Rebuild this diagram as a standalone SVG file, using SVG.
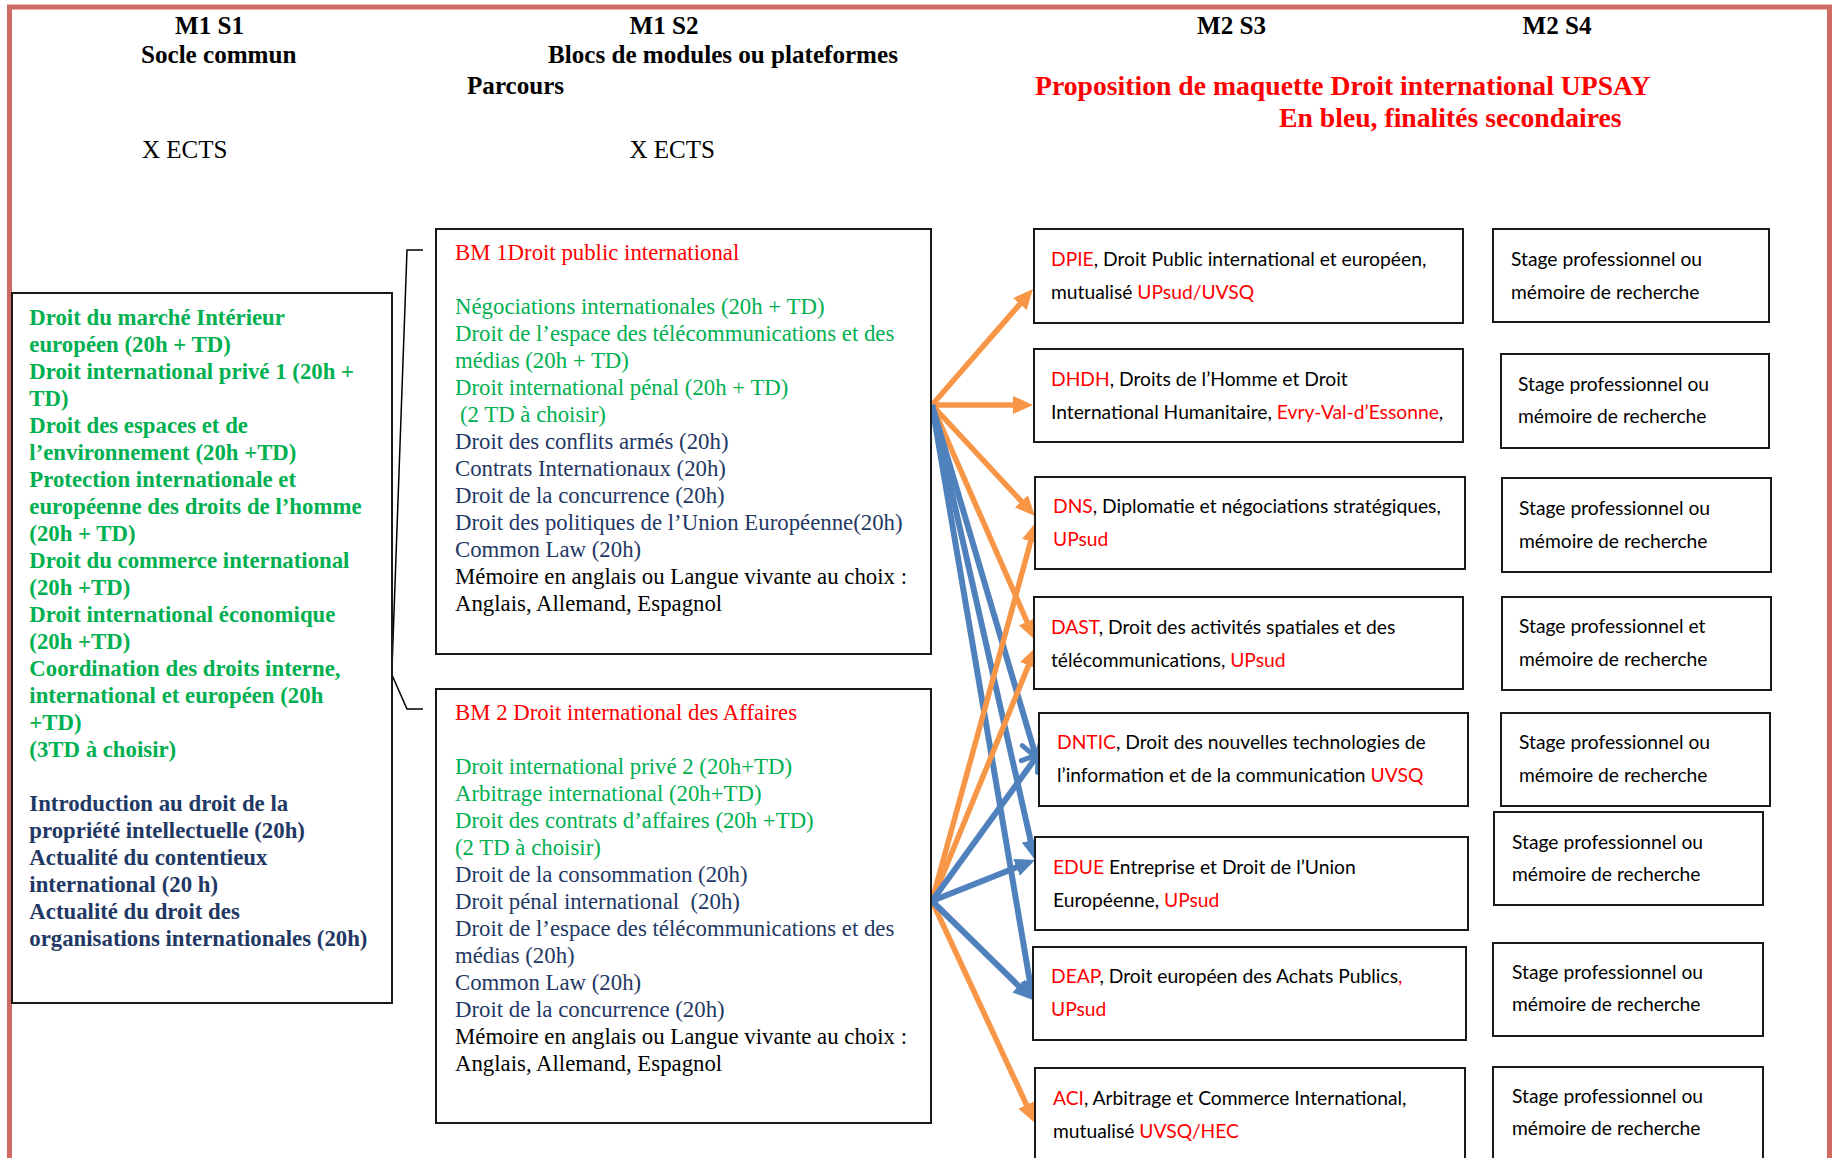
<svg xmlns="http://www.w3.org/2000/svg" width="1835" height="1158" viewBox="0 0 1835 1158">
<style>
.hd{font-family:"Liberation Serif","Times New Roman",serif;font-size:25.1px;font-weight:bold;fill:#000}
.hr{font-family:"Liberation Serif","Times New Roman",serif;font-size:25px;fill:#000}
.ttl{font-family:"Liberation Serif","Times New Roman",serif;font-size:27.7px;font-weight:bold;fill:#FF0000}
.tb{font-family:"Liberation Serif","Times New Roman",serif;font-size:22.8px;font-weight:bold}
.tr{font-family:"Liberation Serif","Times New Roman",serif;font-size:22.8px}
.sn{font-family:Lato,"Open Sans",sans-serif;font-size:19.25px;fill:#000}
.g{fill:#00B050}.n{fill:#1F3864}.r{fill:#FF0000}.k{fill:#000}
.box{fill:#fff;stroke:#1a1a1a;stroke-width:2}
.or{fill:none;stroke:#F79646;stroke-width:5.5}
.bl{fill:none;stroke:#4F81BD;stroke-width:6}
</style>
<defs>
<marker id="triO" markerUnits="userSpaceOnUse" markerWidth="20" markerHeight="18" viewBox="0 0 20 18" refX="8" refY="9" orient="auto"><path d="M0,0 L20,9 L0,18 z" fill="#F79646"/></marker>
<marker id="triB" markerUnits="userSpaceOnUse" markerWidth="20" markerHeight="18" viewBox="0 0 20 18" refX="8" refY="9" orient="auto"><path d="M0,0 L20,9 L0,18 z" fill="#4F81BD"/></marker>
<marker id="openB" markerUnits="userSpaceOnUse" markerWidth="34" markerHeight="34" viewBox="-8 -7 34 34" refX="16" refY="10" orient="auto"><path d="M1,0 L16,10 L1,20" fill="none" stroke="#4F81BD" stroke-width="5" stroke-linecap="round"/></marker>
</defs>
<rect x="9.5" y="7" width="1820" height="1175" fill="none" stroke="#CF6B63" stroke-width="5"/>

<g id="headers">
<text class="hd" x="175" y="34">M1 S1</text>
<text class="hd" x="141" y="63">Socle commun</text>
<text class="hd" x="629.5" y="34">M1 S2</text>
<text class="hd" x="548" y="63">Blocs de modules ou plateformes</text>
<text class="hd" x="467" y="94">Parcours</text>
<text class="hr" x="142" y="158">X ECTS</text>
<text class="hr" x="629.5" y="158">X ECTS</text>
<text class="hd" x="1197" y="34">M2 S3</text>
<text class="hd" x="1522.5" y="34">M2 S4</text>
<text class="ttl" x="1035" y="95">Proposition de maquette Droit international UPSAY</text>
<text class="ttl" x="1279" y="127">En bleu, finalités secondaires</text>
</g>

<g id="connectors">
<path d="M423,250 L407,250 L392,668 M392,675 L407,709 L423,709" fill="none" stroke="#000" stroke-width="1.5"/>
<line class="or" x1="932" y1="405" x2="1025.1" y2="298.1" marker-end="url(#triO)"/>
<line class="or" x1="932" y1="405" x2="1021" y2="405" marker-end="url(#triO)"/>
<line class="or" x1="932" y1="405" x2="1026.8" y2="507.2" marker-end="url(#triO)"/>
<line class="or" x1="932" y1="405" x2="1030.2" y2="629" marker-end="url(#triO)"/>
<line class="bl" x1="932" y1="405" x2="1036.1" y2="757.1" marker-end="url(#openB)"/>
<line class="bl" x1="932" y1="405" x2="1032.4" y2="848.3" marker-end="url(#triB)"/>
<line class="bl" x1="932" y1="405" x2="1031" y2="988.2" marker-end="url(#triB)"/>
<line class="or" x1="932" y1="901" x2="1032.8" y2="533.6" marker-end="url(#triO)"/>
<line class="or" x1="932" y1="901" x2="1031.5" y2="658.1" marker-end="url(#triO)"/>
<line class="or" x1="932" y1="901" x2="1029.9" y2="1112.1" marker-end="url(#triO)"/>
<line class="bl" x1="932" y1="901" x2="1038.2" y2="754.4" marker-end="url(#openB)"/>
<line class="bl" x1="932" y1="901" x2="1023.9" y2="864.4" marker-end="url(#triB)"/>
<line class="bl" x1="932" y1="901" x2="1024.4" y2="991.6" marker-end="url(#triB)"/>
</g>

<g id="socle">
<rect class="box" x="12" y="293" width="380" height="710"/>
<text class="tb g">
<tspan x="29.3" y="325">Droit du marché Intérieur</tspan>
<tspan x="29.3" y="352">européen (20h + TD)</tspan>
<tspan x="29.3" y="379">Droit international privé 1 (20h +</tspan>
<tspan x="29.3" y="406">TD)</tspan>
<tspan x="29.3" y="433">Droit des espaces et de</tspan>
<tspan x="29.3" y="460">l’environnement (20h +TD)</tspan>
<tspan x="29.3" y="487">Protection internationale et</tspan>
<tspan x="29.3" y="514">européenne des droits de l’homme</tspan>
<tspan x="29.3" y="541">(20h + TD)</tspan>
<tspan x="29.3" y="568">Droit du commerce international</tspan>
<tspan x="29.3" y="595">(20h +TD)</tspan>
<tspan x="29.3" y="622">Droit international économique</tspan>
<tspan x="29.3" y="649">(20h +TD)</tspan>
<tspan x="29.3" y="676">Coordination des droits interne,</tspan>
<tspan x="29.3" y="703">international et européen (20h</tspan>
<tspan x="29.3" y="730">+TD)</tspan>
<tspan x="29.3" y="757">(3TD à choisir)</tspan>
</text>
<text class="tb n">
<tspan x="29.3" y="811">Introduction au droit de la</tspan>
<tspan x="29.3" y="838">propriété intellectuelle (20h)</tspan>
<tspan x="29.3" y="865">Actualité du contentieux</tspan>
<tspan x="29.3" y="892">international (20 h)</tspan>
<tspan x="29.3" y="919">Actualité du droit des</tspan>
<tspan x="29.3" y="946">organisations internationales (20h)</tspan>
</text>
</g>

<g id="bm1">
<rect class="box" x="436" y="229" width="495" height="425"/>
<text class="tr r" x="455" y="260">BM 1Droit public international</text>
<text class="tr g">
<tspan x="455" y="314">Négociations internationales (20h + TD)</tspan>
<tspan x="455" y="341">Droit de l’espace des télécommunications et des</tspan>
<tspan x="455" y="368">médias (20h + TD)</tspan>
<tspan x="455" y="395">Droit international pénal (20h + TD)</tspan>
<tspan x="460" y="422">(2 TD à choisir)</tspan>
</text>
<text class="tr n">
<tspan x="455" y="449">Droit des conflits armés (20h)</tspan>
<tspan x="455" y="476">Contrats Internationaux (20h)</tspan>
<tspan x="455" y="503">Droit de la concurrence (20h)</tspan>
<tspan x="455" y="530">Droit des politiques de l’Union Européenne(20h)</tspan>
<tspan x="455" y="557">Common Law (20h)</tspan>
</text>
<text class="tr k">
<tspan x="455" y="584">Mémoire en anglais ou Langue vivante au choix :</tspan>
<tspan x="455" y="611">Anglais, Allemand, Espagnol</tspan>
</text>
</g>

<g id="bm2">
<rect class="box" x="436" y="689" width="495" height="434"/>
<text class="tr r" x="455" y="720">BM 2 Droit international des Affaires</text>
<text class="tr g">
<tspan x="455" y="774">Droit international privé 2 (20h+TD)</tspan>
<tspan x="455" y="801">Arbitrage international (20h+TD)</tspan>
<tspan x="455" y="828">Droit des contrats d’affaires (20h +TD)</tspan>
<tspan x="455" y="855">(2 TD à choisir)</tspan>
</text>
<text class="tr n">
<tspan x="455" y="882">Droit de la consommation (20h)</tspan>
<tspan x="455" y="909">Droit pénal international&#160; (20h)</tspan>
<tspan x="455" y="936">Droit de l’espace des télécommunications et des</tspan>
<tspan x="455" y="963">médias (20h)</tspan>
<tspan x="455" y="990">Common Law (20h)</tspan>
<tspan x="455" y="1017">Droit de la concurrence (20h)</tspan>
</text>
<text class="tr k">
<tspan x="455" y="1044">Mémoire en anglais ou Langue vivante au choix :</tspan>
<tspan x="455" y="1071">Anglais, Allemand, Espagnol</tspan>
</text>
</g>

<g id="dpie">
<rect class="box" x="1034" y="229" width="429" height="94"/>
<text class="sn" x="1051" y="266"><tspan class="r">DPIE</tspan>, Droit Public international et européen,</text>
<text class="sn" x="1051" y="299">mutualisé <tspan class="r">UPsud/UVSQ</tspan></text>
</g>
<g id="dhdh">
<rect class="box" x="1034" y="349" width="429" height="93"/>
<text class="sn" x="1051" y="386"><tspan class="r">DHDH</tspan>, Droits de l’Homme et Droit</text>
<text class="sn" x="1051" y="419">International Humanitaire, <tspan class="r">Evry-Val-d’Essonne</tspan>,</text>
</g>
<g id="dns">
<rect class="box" x="1035" y="477" width="430" height="92"/>
<text class="sn" x="1053" y="513"><tspan class="r">DNS</tspan>, Diplomatie et négociations stratégiques,</text>
<text class="sn r" x="1053" y="546">UPsud</text>
</g>
<g id="dast">
<rect class="box" x="1034" y="597" width="429" height="92"/>
<text class="sn" x="1051" y="634"><tspan class="r">DAST</tspan>, Droit des activités spatiales et des</text>
<text class="sn" x="1051" y="667">télécommunications, <tspan class="r">UPsud</tspan></text>
</g>
<g id="dntic">
<rect class="box" x="1039" y="713" width="429" height="93"/>
<text class="sn" x="1057" y="749"><tspan class="r">DNTIC</tspan>, Droit des nouvelles technologies de</text>
<text class="sn" x="1057" y="782">l’information et de la communication <tspan class="r">UVSQ</tspan></text>
</g>
<g id="edue">
<rect class="box" x="1035" y="837" width="433" height="93"/>
<text class="sn" x="1053" y="874"><tspan class="r">EDUE</tspan> Entreprise et Droit de l’Union</text>
<text class="sn" x="1053" y="907">Européenne, <tspan class="r">UPsud</tspan></text>
</g>
<g id="deap">
<rect class="box" x="1033" y="947" width="433" height="93"/>
<text class="sn" x="1051" y="983"><tspan class="r">DEAP</tspan>, Droit européen des Achats Publics<tspan class="r">,</tspan></text>
<text class="sn r" x="1051" y="1016">UPsud</text>
</g>
<g id="aci">
<rect class="box" x="1035" y="1068" width="430" height="110"/>
<text class="sn" x="1053" y="1105"><tspan class="r">ACI</tspan>, Arbitrage et Commerce International,</text>
<text class="sn" x="1053" y="1138">mutualisé <tspan class="r">UVSQ/HEC</tspan></text>
</g>

<g id="s4-1"><rect class="box" x="1493" y="229" width="276" height="93"/>
<text class="sn"><tspan x="1511" y="266">Stage professionnel ou</tspan><tspan x="1511" y="299">mémoire de recherche</tspan></text></g>
<g id="s4-2"><rect class="box" x="1501" y="354" width="268" height="94"/>
<text class="sn"><tspan x="1518" y="391">Stage professionnel ou</tspan><tspan x="1518" y="423">mémoire de recherche</tspan></text></g>
<g id="s4-3"><rect class="box" x="1502" y="478" width="269" height="94"/>
<text class="sn"><tspan x="1519" y="515">Stage professionnel ou</tspan><tspan x="1519" y="548">mémoire de recherche</tspan></text></g>
<g id="s4-4"><rect class="box" x="1502" y="597" width="269" height="93"/>
<text class="sn"><tspan x="1519" y="633">Stage professionnel et</tspan><tspan x="1519" y="666">mémoire de recherche</tspan></text></g>
<g id="s4-5"><rect class="box" x="1501" y="713" width="269" height="93"/>
<text class="sn"><tspan x="1519" y="749">Stage professionnel ou</tspan><tspan x="1519" y="782">mémoire de recherche</tspan></text></g>
<g id="s4-6"><rect class="box" x="1494" y="812" width="269" height="93"/>
<text class="sn"><tspan x="1512" y="849">Stage professionnel ou</tspan><tspan x="1512" y="881">mémoire de recherche</tspan></text></g>
<g id="s4-7"><rect class="box" x="1493" y="943" width="270" height="93"/>
<text class="sn"><tspan x="1512" y="979">Stage professionnel ou</tspan><tspan x="1512" y="1011">mémoire de recherche</tspan></text></g>
<g id="s4-8"><rect class="box" x="1493" y="1067" width="270" height="110"/>
<text class="sn"><tspan x="1512" y="1103">Stage professionnel ou</tspan><tspan x="1512" y="1135">mémoire de recherche</tspan></text></g>
</svg>
